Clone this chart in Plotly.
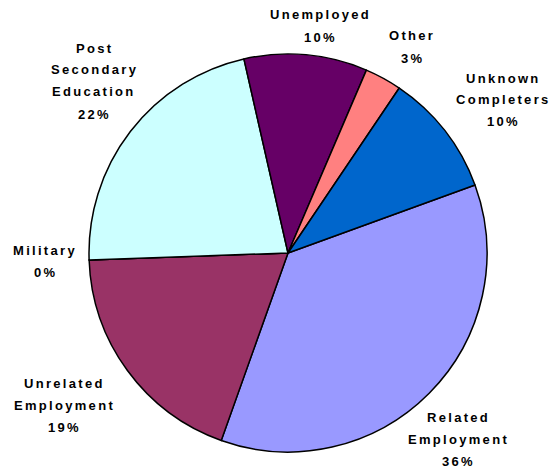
import plotly.graph_objects as go

# Data (clockwise order starting at ~70 degrees)
categories = ["Related Employment", "Unrelated Employment", "Military",
              "Post Secondary Education", "Unemployed", "Other", "Unknown Completers"]
values = [36, 19, 0, 22, 10, 3, 10]
label_lines = [["Related", "Employment"], ["Unrelated", "Employment"], ["Military"],
               ["Post", "Secondary", "Education"], ["Unemployed"], ["Other"],
               ["Unknown", "Completers"]]
colors = ["#9999FF", "#993366", "#FFFFCC", "#CCFFFF", "#660066", "#FF8080", "#0066CC"]

# Layout (pixel geometry)
W, H = 556, 468
L, T, SIZE = 89, 54, 398
# label anchor (centre x, first-line centre y) in pixels
label_pos = [(458, 417), (64, 383), (45, 250), (94, 48), (320, 15), (412, 36), (503, 78)]
LINE_GAP = 22

fig = go.Figure(go.Pie(
    labels=categories,
    values=values,
    sort=False,
    direction="clockwise",
    rotation=70,
    marker=dict(colors=colors, line=dict(color="black", width=1.5)),
    textinfo="none",
    hoverinfo="label+percent",
    showlegend=False,
))

total = sum(values)
annotations = []
for lines, v, (px, py) in zip(label_lines, values, label_pos):
    all_lines = lines + [f"{round(100 * v / total)}%"]
    for i, line in enumerate(all_lines):
        y_px = py + i * LINE_GAP
        annotations.append(dict(
            x=(px - L) / SIZE, y=1 - (y_px - T) / SIZE,
            xref="paper", yref="paper", xanchor="center", yanchor="middle",
            showarrow=False,
            text=f"<span style='letter-spacing:2.3px'><b>{line}</b></span>",
            font=dict(family="Liberation Sans, Arial, sans-serif", size=13, color="black"),
        ))

fig.update_layout(
    width=W, height=H,
    margin=dict(l=L, r=W - L - SIZE, t=T, b=H - T - SIZE, pad=0),
    paper_bgcolor="white", plot_bgcolor="white",
    annotations=annotations,
)

fig.write_html("out.html")
